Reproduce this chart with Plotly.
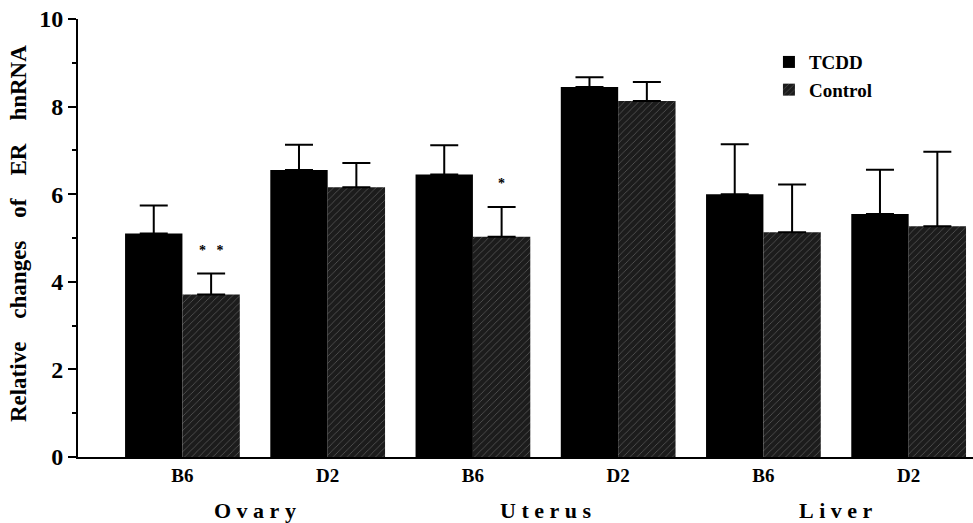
import plotly.graph_objects as go

categories = ["Ovary B6", "Ovary D2", "Uterus B6", "Uterus D2", "Liver B6", "Liver D2"]
tick_labels = ["B6", "D2", "B6", "D2", "B6", "D2"]
tcdd = [5.10, 6.55, 6.45, 8.45, 6.00, 5.55]
tcdd_err = [0.64, 0.58, 0.67, 0.22, 1.14, 1.01]
control = [3.71, 6.16, 5.03, 8.13, 5.13, 5.27]
control_err = [0.48, 0.55, 0.68, 0.43, 1.09, 1.70]
organs = ["Ovary", "Uterus", "Liver"]
organ_pos = [0.5, 2.5, 4.5]
signif = [("* *", "Ovary B6", 4.72), ("*", "Uterus B6", 6.25)]

FONT = "Liberation Serif"
NB = "\u00a0"

fig = go.Figure()
fig.add_trace(go.Bar(
    x=categories, y=tcdd, name="TCDD",
    marker=dict(color="black", line=dict(width=0)),
    error_y=dict(type="data", array=tcdd_err, arrayminus=[0]*6, symmetric=False,
                 color="black", thickness=2, width=14),
))
fig.add_trace(go.Bar(
    x=categories, y=control, name="Control",
    marker=dict(color="#1c1c1c", line=dict(width=0),
                pattern=dict(shape="/", fgcolor="#9a9a9a", bgcolor="#1c1c1c",
                             size=5, solidity=0.15)),
    error_y=dict(type="data", array=control_err, arrayminus=[0]*6, symmetric=False,
                 color="black", thickness=2, width=14),
))

annotations = []
for name, xpos in zip(organs, organ_pos):
    annotations.append(dict(
        x=xpos, y=0, xref="x", yref="paper", yshift=-53, showarrow=False,
        text=NB.join(list(name)),
        font=dict(family=FONT, size=22, color="black", weight="bold"),
        yanchor="middle"))
for txt, cat, yv in signif:
    annotations.append(dict(
        x=cat, y=yv, xref="x", yref="y", xshift=29, showarrow=False,
        text=txt.replace(" ", NB * 3),
        font=dict(family=FONT, size=14, color="black", weight="bold")))
annotations.append(dict(
    x=0, y=0.51, xref="paper", yref="paper", xshift=-74, showarrow=False,
    textangle=-90,
    text=(NB * 4).join(["Relative", "changes", "of", "ER", "hnRNA"]),
    font=dict(family=FONT, size=23, color="black", weight="bold")))

fig.update_layout(
    width=973, height=523,
    margin=dict(l=78, r=0, t=19, b=66),
    paper_bgcolor="white", plot_bgcolor="white",
    barmode="group", bargap=0.21, bargroupgap=0,
    showlegend=True,
    legend=dict(x=0.772, y=0.945, xanchor="left", yanchor="top",
                font=dict(family=FONT, size=19, color="black", weight="bold"),
                bgcolor="rgba(0,0,0,0)", itemwidth=30, tracegroupgap=0),
    annotations=annotations,
    font=dict(family=FONT, color="black"),
)
fig.update_xaxes(
    range=[-0.719, 5.443], tickmode="array", tickvals=categories, ticktext=tick_labels,
    showline=True, linecolor="black", linewidth=2, ticks="", showgrid=False,
    tickfont=dict(family=FONT, size=19, color="black", weight="bold"),
    zeroline=False,
)
fig.update_yaxes(
    range=[0, 10], tickvals=[0, 2, 4, 6, 8, 10], showgrid=False,
    showline=True, linecolor="black", linewidth=2,
    ticks="outside", ticklen=8, tickwidth=2, tickcolor="black",
    minor=dict(tickvals=[1, 3, 5, 7, 9], ticks="outside", ticklen=4, tickwidth=1.5, tickcolor="black"),
    tickfont=dict(family=FONT, size=24, color="black", weight="bold"),
    zeroline=False,
)

fig.write_html("out.html", config={"displayModeBar": False},
               post_script="document.body.style.margin='0';")
